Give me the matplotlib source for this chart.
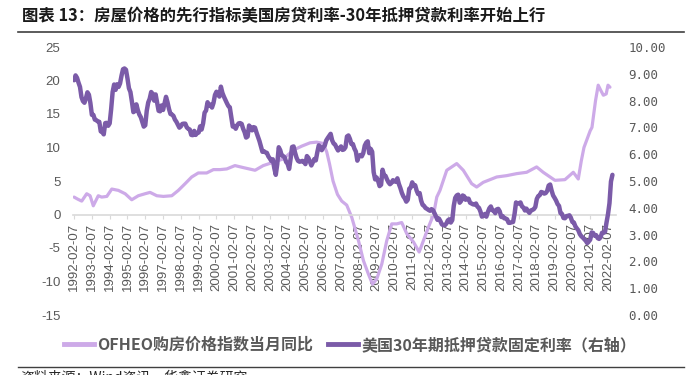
import matplotlib
matplotlib.use("Agg")
import matplotlib.pyplot as plt
from matplotlib.lines import Line2D
import numpy as np

plt.rcParams['font.family'] = ['Noto Sans CJK SC', 'DejaVu Sans']
plt.rcParams['axes.unicode_minus'] = False

# 30-year fixed mortgage rate (%), monthly, Feb 1992 - May 2022 (right axis)
rate = [
    8.76, 8.94, 8.85, 8.67, 8.51, 8.13, 7.98, 7.92, 8.09, 8.31, 8.22,
    7.91, 7.47, 7.47, 7.29, 7.27, 7.22, 7.21, 6.85, 6.83, 6.74, 7.16, 7.17,
    7.06, 7.15, 7.68, 8.32, 8.60, 8.40, 8.61, 8.51, 8.64, 8.93, 9.17, 9.20,
    9.15, 8.83, 8.46, 8.32, 7.96, 7.57, 7.61, 7.86, 7.64, 7.48, 7.38, 7.20,
    7.03, 7.08, 7.62, 7.93, 8.07, 8.32, 8.25, 8.00, 8.23, 7.92, 7.62, 7.60,
    7.82, 7.65, 7.90, 8.14, 7.94, 7.69, 7.50, 7.48, 7.43, 7.29, 7.21, 7.10,
    6.99, 7.04, 7.13, 7.14, 7.14, 7.00, 6.95, 6.92, 6.72, 6.71, 6.87, 6.72,
    6.79, 6.81, 7.04, 6.92, 7.15, 7.55, 7.63, 7.94, 7.82, 7.85, 7.74, 7.91,
    8.21, 8.33, 8.24, 8.15, 8.52, 8.29, 8.15, 8.03, 7.91, 7.80, 7.75, 7.38,
    7.03, 7.05, 6.95, 7.08, 7.15, 7.16, 7.13, 6.95, 6.82, 6.62, 6.66, 7.07,
    7.00, 6.89, 7.01, 6.99, 6.81, 6.65, 6.49, 6.29, 6.09, 6.11, 6.07, 6.05,
    5.92, 5.84, 5.75, 5.81, 5.48, 5.23, 5.63, 6.26, 6.15, 5.95, 5.93, 5.88,
    5.71, 5.64, 5.45, 5.83, 6.27, 6.29, 6.06, 5.87, 5.75, 5.72, 5.73, 5.75,
    5.71, 5.63, 5.93, 5.86, 5.72, 5.58, 5.70, 5.82, 5.77, 6.07, 6.33, 6.27,
    6.15, 6.25, 6.32, 6.51, 6.60, 6.68, 6.76, 6.52, 6.40, 6.36, 6.24, 6.14,
    6.22, 6.29, 6.16, 6.18, 6.26, 6.66, 6.70, 6.57, 6.38, 6.38, 6.21, 6.10,
    5.76, 5.92, 5.97, 5.92, 6.04, 6.32, 6.43, 6.48, 6.04, 6.20, 6.09, 5.33,
    5.06, 5.13, 5.00, 4.81, 4.86, 5.42, 5.22, 5.19, 5.06, 4.95, 4.88, 4.93,
    5.03, 4.99, 4.97, 5.10, 4.89, 4.74, 4.56, 4.43, 4.35, 4.23, 4.30, 4.71,
    4.76, 4.95, 4.84, 4.84, 4.64, 4.51, 4.55, 4.27, 4.11, 4.07, 3.99, 3.96,
    3.92, 3.89, 3.95, 3.91, 3.80, 3.68, 3.55, 3.60, 3.50, 3.38, 3.35, 3.35,
    3.41, 3.53, 3.57, 3.45, 3.54, 4.07, 4.37, 4.46, 4.49, 4.19, 4.26, 4.46,
    4.43, 4.30, 4.34, 4.34, 4.19, 4.16, 4.13, 4.12, 4.16, 4.04, 4.00, 3.86,
    3.67, 3.71, 3.77, 3.67, 3.84, 3.98, 4.05, 3.91, 3.89, 3.80, 3.94, 3.96,
    3.87, 3.66, 3.69, 3.61, 3.60, 3.57, 3.44, 3.44, 3.46, 3.47, 3.77, 4.20,
    4.15, 4.17, 4.20, 4.05, 4.01, 3.90, 3.97, 3.88, 3.81, 3.90, 3.92, 3.95,
    4.03, 4.33, 4.44, 4.47, 4.59, 4.57, 4.53, 4.55, 4.63, 4.83, 4.87, 4.64,
    4.46, 4.37, 4.27, 4.14, 4.07, 3.80, 3.77, 3.62, 3.61, 3.69, 3.70, 3.72,
    3.62, 3.47, 3.45, 3.31, 3.23, 3.16, 3.02, 2.94, 2.89, 2.83, 2.77, 2.68,
    2.74, 2.81, 3.08, 3.06, 2.96, 2.98, 2.87, 2.84, 2.90, 3.07, 3.07, 3.10,
    3.45, 3.76, 4.17, 4.98, 5.23,
]
rate_start = 1992.10  # first observation, 1992-02-07

# OFHEO purchase-only house price index, YoY % (left axis), read at time points
hpi_t = [
    1992.10, 1992.30, 1992.53, 1992.81, 1993.00, 1993.18, 1993.46, 1993.65, 1993.94,
    1994.22, 1994.59, 1994.97, 1995.34, 1995.71, 1996.09, 1996.37, 1996.75, 1997.12,
    1997.59, 1997.96, 1998.34, 1998.71, 1999.08, 1999.55, 1999.93, 2000.30, 2000.68,
    2001.14, 2001.61, 2002.27, 2002.73, 2003.30, 2003.86, 2004.42, 2004.89, 2005.36,
    2005.73, 2006.11, 2006.30, 2006.45, 2006.65, 2006.90, 2007.14, 2007.42, 2007.70,
    2008.08, 2008.36, 2008.64, 2008.87, 2009.11, 2009.39, 2009.67, 2009.95, 2010.23,
    2010.51, 2010.80, 2011.17, 2011.49, 2011.73, 2012.01, 2012.30, 2012.48, 2012.66,
    2013.04, 2013.60, 2013.97, 2014.44, 2014.72, 2015.09, 2015.85, 2016.41, 2016.97,
    2017.53, 2018.09, 2018.46, 2019.12, 2019.68, 2020.15, 2020.43, 2020.60, 2020.75,
    2021.10, 2021.20, 2021.40, 2021.55, 2021.70, 2021.84, 2022.00, 2022.10, 2022.21,
]
hpi = [
    2.6, 2.3, 2.0, 3.1, 2.8, 1.3, 2.8, 2.6, 2.7,
    3.8, 3.6, 3.1, 2.2, 2.8, 3.1, 3.3, 2.8, 2.7,
    2.8, 3.6, 4.6, 5.6, 6.2, 6.2, 6.7, 6.7, 6.8,
    7.3, 7.0, 6.6, 7.3, 7.8, 8.3, 9.6, 10.2, 10.7,
    10.8, 10.6, 9.3, 7.6, 5.0, 3.0, 2.0, 1.4, -0.4,
    -3.9, -6.9, -8.9, -10.4, -9.6, -7.4, -3.9, -1.4, -1.4,
    -1.2, -2.9, -4.1, -5.6, -3.9, -1.9, 0.0, 2.6, 3.6,
    6.6, 7.6, 6.6, 4.6, 4.1, 4.8, 5.6, 5.8, 6.1,
    6.3, 7.1, 6.3, 5.1, 5.2, 6.3, 5.3, 8.0, 10.0,
    12.5, 13.0, 17.0, 19.3, 18.5, 17.8, 18.0, 19.3, 19.0,
]

years = list(range(1992, 2023))
tick_labels = [f"{y}-02-07" for y in years]

light = '#cdaae8'
dark = '#7b5ba8'
grey = '#595959'

fig = plt.figure(figsize=(6.93, 3.75), dpi=100)
ax = fig.add_axes([73 / 693, 1 - 315 / 375, 543 / 693, 268 / 375])
ax2 = ax.twinx()

rate_t = rate_start + np.arange(len(rate)) / 12
ax.plot(hpi_t, hpi, color=light, lw=2.3, solid_capstyle='round')
ax2.plot(rate_t, rate, color=dark, lw=3.2, solid_capstyle='round')

ax.set_xlim(1992.04, 2022.55)
ax.set_ylim(-15, 25)
ax2.set_ylim(0, 10)

for s in ['top', 'right', 'left']:
    ax.spines[s].set_visible(False)
for s in ax2.spines.values():
    s.set_visible(False)
ax.spines['bottom'].set_position(('data', 0))
ax.spines['bottom'].set_color('#d9d9d9')
ax.spines['bottom'].set_linewidth(1.2)

ax.set_xticks([1992.10 + (y - 1992) for y in years])
ax.set_xticklabels(tick_labels, rotation=90, fontsize=9.5, color=grey,
                   family='Liberation Sans')
ax.tick_params(axis='x', length=3, color='#d9d9d9', pad=3)

ax.set_yticks(range(-15, 30, 5))
ax.set_yticklabels([str(v) for v in range(-15, 30, 5)], fontsize=9.5,
                   color=grey, family='Liberation Sans')
ax.tick_params(axis='y', length=0, pad=9)

ax2.set_yticks(range(0, 11))
ax2.set_yticklabels([f"{v:.2f}" for v in range(0, 11)], fontsize=9,
                    color=grey, family='DejaVu Sans Mono')
ax2.tick_params(axis='y', length=0, pad=9)

handles = [Line2D([], [], color=light, lw=3.5),
           Line2D([], [], color=dark, lw=3.5)]
names = ['OFHEO购房价格指数当月同比', '美国30年期抵押贷款固定利率（右轴）']
leg = fig.legend(handles, names, loc='center', bbox_to_anchor=(350 / 693, 1 - 345 / 375),
                 ncol=2, frameon=False, handlelength=1.9, handletextpad=0.2,
                 columnspacing=0.9, prop={'family': ['Noto Sans CJK SC', 'DejaVu Sans'],
                                          'weight': 'bold', 'size': 11.5})
for t in leg.get_texts():
    t.set_color(grey)

fig.text(22 / 693, 1 - 16 / 375,
         "图表 13：房屋价格的先行指标美国房贷利率-30年抵押贷款利率开始上行",
         fontsize=11.8, fontweight='bold', va='center', color='#1a1a1a')
fig.add_artist(Line2D([18 / 693, 684 / 693], [1 - 32 / 375] * 2, color='#404040', lw=1.2))
fig.add_artist(Line2D([18 / 693, 684 / 693], [1 - 367 / 375] * 2, color='#404040', lw=1.0))
fig.text(20 / 693, 1 - 370.5 / 375, "资料来源：Wind资讯，华鑫证券研究",
         fontsize=10, va='top', color='#262626')

fig.savefig('out.png', dpi=100)
